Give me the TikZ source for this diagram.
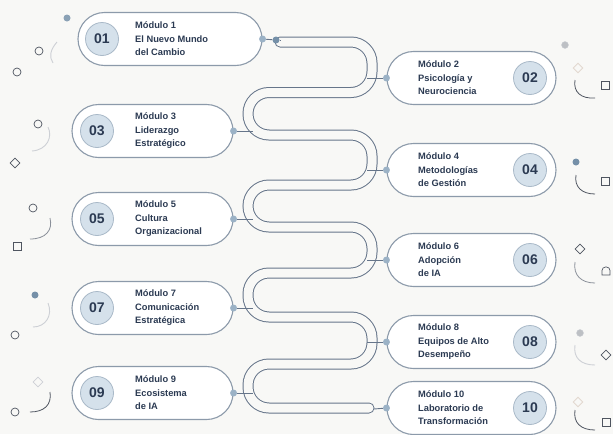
\documentclass[tikz,border=0pt]{standalone}
\usepackage{fontspec}
\setmainfont{Liberation Sans}
\usetikzlibrary{shapes.misc,shapes.geometric}
\definecolor{bg}{HTML}{F8F8F6}
\definecolor{navy}{HTML}{2B3A52}
\definecolor{cardline}{HTML}{8C9AAA}
\definecolor{numfill}{HTML}{D5E1EB}
\definecolor{numline}{HTML}{A9B9C8}
\definecolor{track}{HTML}{66758A}
\definecolor{dotlight}{HTML}{9BB2C6}
\definecolor{dotdark}{HTML}{7590A8}
\definecolor{deco}{HTML}{4F5560}
\definecolor{decomid}{HTML}{8A9099}
\definecolor{decolight}{HTML}{CDD0D5}
\definecolor{decopeach}{HTML}{E2D9D0}
\begin{document}
\begin{tikzpicture}[x=1pt,y=-1pt,
  card/.style={rounded rectangle, draw=cardline, line width=1.1pt, fill=white, minimum height=53pt, inner sep=0pt},
  num/.style={circle, fill=numfill, draw=numline, line width=0.8pt, minimum size=33pt, inner sep=0pt, font=\bfseries\fontsize{14}{14}\selectfont, text=navy},
  lbl/.style={align=left, anchor=west, font=\bfseries\fontsize{9.3}{13.5}\selectfont, text=navy, inner sep=0pt},
  dot/.style={circle, fill=dotlight, minimum size=7pt, inner sep=0pt},
  conn/.style={draw=track, line width=0.9pt},
  ocirc/.style={circle, draw=deco, line width=0.7pt, minimum size=8pt, inner sep=0pt},
  osq/.style={rectangle, draw=deco, line width=0.7pt, minimum size=8pt, inner sep=0pt},
  odia/.style={diamond, draw=deco, line width=0.7pt, minimum size=10pt, inner sep=0pt},
  fdot/.style={circle, fill=dotdark, minimum size=7pt, inner sep=0pt},
  gdot/.style={circle, fill=decolight!80!gray, draw=decolight, minimum size=7pt, inner sep=0pt},
  arcd/.style={draw=deco, line width=0.8pt},
  arcm/.style={draw=decomid, line width=0.8pt},
  arcl/.style={draw=decolight, line width=0.9pt}
]
\fill[bg] (0,0) rectangle (613,434);
\useasboundingbox (0,0) rectangle (613,434);

% serpentine track
\draw[track, line width=1pt, double=bg, double distance=9pt, rounded corners=21pt, line cap=round]
  (280,42) -- (372,42) -- (372,92.5) -- (248,92.5) -- (248,135) -- (372,135) -- (372,185)
  -- (248,185) -- (248,227) -- (372,227) -- (372,273) -- (248,273) -- (248,317)
  -- (372,317) -- (372,364) -- (248,364) -- (248,408) -- (369,408);

% track contact points
\coordinate (t1) at (280,40);
\coordinate (t2) at (367,78);
\coordinate (t3) at (253,131);
\coordinate (t4) at (367,170);
\coordinate (t5) at (253,219);
\coordinate (t6) at (367,260);
\coordinate (t7) at (253,308);
\coordinate (t8) at (367,342);
\coordinate (t9) at (253,393);
\coordinate (t10) at (374,409);

% left cards
\node[card, minimum width=184pt] (m1) at (170,39) {};
\node[card, minimum width=161pt] (m3) at (152.5,131) {};
\node[card, minimum width=161pt] (m5) at (152.5,219) {};
\node[card, minimum width=161pt] (m7) at (152.5,308) {};
\node[card, minimum width=161pt] (m9) at (152.5,393) {};
% right cards
\node[card, minimum width=169pt] (m2) at (471.5,78) {};
\node[card, minimum width=169pt] (m4) at (471.5,170) {};
\node[card, minimum width=169pt] (m6) at (471.5,260) {};
\node[card, minimum width=169pt] (m8) at (471.5,342) {};
\node[card, minimum width=169pt] (m10) at (471.5,408) {};

% numbers
\node[num] (n1) at (102,39) {01};
\node[num] (n3) at (97,131) {03};
\node[num] (n5) at (97,219) {05};
\node[num] (n7) at (97,308) {07};
\node[num] (n9) at (97,393) {09};
\node[num] (n2) at (530,78) {02};
\node[num] (n4) at (530,170) {04};
\node[num] (n6) at (530,260) {06};
\node[num] (n8) at (530,342) {08};
\node[num] (n10) at (530,408) {10};

% labels
\node[lbl] (l1) at (135,39) {Módulo 1\\El Nuevo Mundo\\del Cambio};
\node[lbl] (l3) at (135,131) {Módulo 3\\Liderazgo\\Estratégico};
\node[lbl] (l5) at (135,219) {Módulo 5\\Cultura\\Organizacional};
\node[lbl] (l7) at (135,308) {Módulo 7\\Comunicación\\Estratégica};
\node[lbl] (l9) at (135,393) {Módulo 9\\Ecosistema\\de IA};
\node[lbl] (l2) at (418,78) {Módulo 2\\Psicología y\\Neurociencia};
\node[lbl] (l4) at (418,170) {Módulo 4\\Metodologías\\de Gestión};
\node[lbl] (l6) at (418,260) {Módulo 6\\Adopción\\de IA};
\node[lbl] (l8) at (418,342) {Módulo 8\\Equipos de Alto\\Desempeño};
\node[lbl] (l10) at (418,408) {Módulo 10\\Laboratorio de\\Transformación};

% connector dots
\node[dot] (d1) at (m1.east) {};
\node[dot, fill=dotdark] (d1b) at (276,40) {};
\node[dot] (d3) at (m3.east) {};
\node[dot] (d5) at (m5.east) {};
\node[dot] (d7) at (m7.east) {};
\node[dot] (d9) at (m9.east) {};
\node[dot] (d2) at (m2.west) {};
\node[dot] (d4) at (m4.west) {};
\node[dot] (d6) at (m6.west) {};
\node[dot] (d8) at (m8.west) {};
\node[dot] (d10) at (m10.west) {};

% connectors
\draw[conn] (d1) -- (d1b);
\draw[conn] (d1b) -- (t1);
\draw[conn] (d3) -- (t3);
\draw[conn] (d5) -- (t5);
\draw[conn] (d7) -- (t7);
\draw[conn] (d9) -- (t9);
\draw[conn] (t2) -- (d2);
\draw[conn] (t4) -- (d4);
\draw[conn] (t6) -- (d6);
\draw[conn] (t8) -- (d8);
\draw[conn] (t10) -- (d10);

% left decorations
\node[fdot, fill=dotdark!85] (a1) at (67,18) {};
\node[ocirc] (a2) at (39,51) {};
\node[ocirc] (a3) at (17,72) {};
\draw[arcl] (57,42) .. controls (50,50) and (49,57) .. (53,63);
\node[ocirc] (a4) at (38,124) {};
\node[odia] (a5) at (15,163) {};
\draw[arcl] (48,127) .. controls (53,137) and (47,150) .. (32,151);
\node[ocirc] (a6) at (33,208) {};
\node[osq] (a7) at (17,246) {};
\draw[arcm] (50,218) .. controls (53,230) and (46,239) .. (30,239);
\node[fdot] (a8) at (35,295) {};
\node[ocirc] (a9) at (15,335) {};
\draw[arcl] (48,303) .. controls (53,315) and (46,327) .. (33,327);
\node[odia, draw=decolight] (a10) at (38,382) {};
\node[ocirc] (a11) at (15,412) {};
\draw[arcd] (50,392) .. controls (52,405) and (44,412) .. (30,412);

% right decorations
\node[gdot] (b1) at (565,45) {};
\node[odia, draw=decopeach, line width=0.9pt] (b2) at (578,68) {};
\draw[arcd] (575,80) .. controls (573,92) and (581,99) .. (595,98);
\node[osq] (b3) at (605,85) {};
\node[fdot] (b4) at (576,162) {};
\draw[arcd] (576,175) .. controls (574,187) and (582,194) .. (595,194);
\node[osq] (b5) at (605,181) {};
\node[odia] (b6) at (580,249) {};
\draw[arcm] (575,262) .. controls (573,275) and (581,283) .. (595,283);
\draw[deco, line width=0.7pt, rounded corners=3.5pt] (602,275) -- (602,267) -- (610,267) [sharp corners] -- (610,275) -- cycle;
\node[gdot] (b7) at (580,333) {};
\draw[arcl] (575,345) .. controls (573,358) and (581,365) .. (595,365);
\node[odia] (b8) at (606,355) {};
\node[odia, draw=decopeach, line width=0.9pt] (b9) at (578,402) {};
\draw[arcd] (575,410) .. controls (573,423) and (581,430) .. (595,430);
\node[osq] (b10) at (606,422) {};
\end{tikzpicture}
\end{document}
